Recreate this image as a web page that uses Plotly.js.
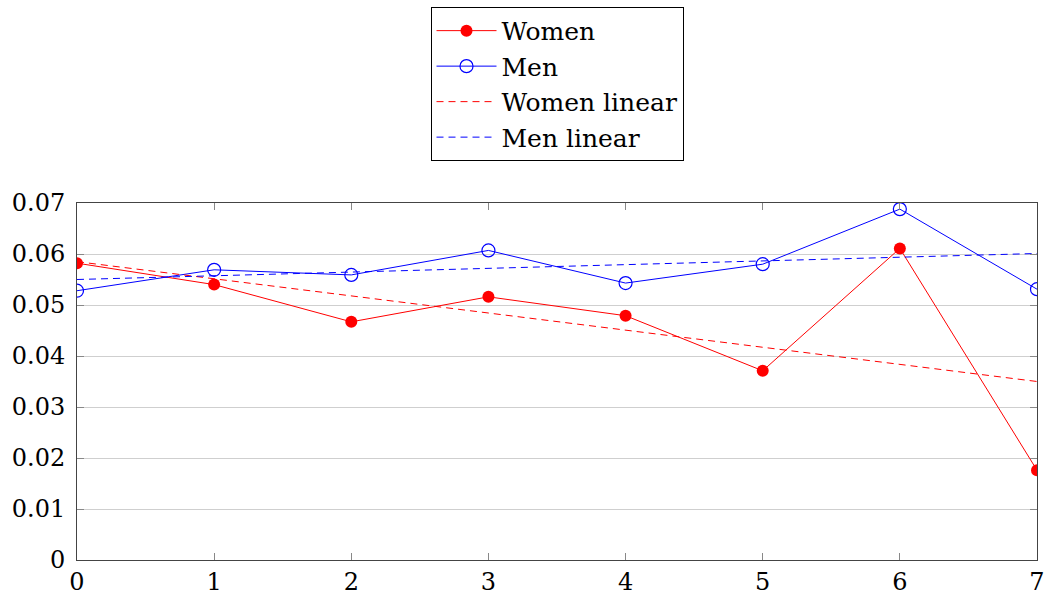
<!DOCTYPE html>
<html>
<head>
<meta charset="utf-8">
<script src="https://cdn.plot.ly/plotly-3.0.1.min.js"></script>
<style>html,body{margin:0;padding:0;background:#fff;}#chart{width:1045px;height:599px;}</style>
</head>
<body>
<div id="chart"></div>
<script>
const xValues = [0, 1, 2, 3, 4, 5, 6, 7];
const women = [0.0582, 0.0540, 0.0467, 0.0516, 0.0479, 0.0371, 0.0611, 0.0176];
const men = [0.0528, 0.0569, 0.0559, 0.0607, 0.0543, 0.0580, 0.0688, 0.0531];
const linearX = [0, 7];
const womenLinear = [0.0585, 0.0350];
const menLinear = [0.0550, 0.0601];
const yTicks = [0, 0.01, 0.02, 0.03, 0.04, 0.05, 0.06, 0.07];
const yTickLabels = ['0', '0.01', '0.02', '0.03', '0.04', '0.05', '0.06', '0.07'];

const font = 'DejaVu Serif';

const traces = [
  {x: xValues, y: women, name: 'Women', mode: 'lines+markers', type: 'scatter',
   line: {color: '#ff0000', width: 1},
   marker: {symbol: 'circle', size: 12, color: '#ff0000', line: {width: 0}}},
  {x: xValues, y: men, name: 'Men', mode: 'lines+markers', type: 'scatter',
   line: {color: '#0000ff', width: 1},
   marker: {symbol: 'circle-open', size: 13, color: '#0000ff', line: {width: 1.2}}},
  {x: linearX, y: womenLinear, name: 'Women linear', mode: 'lines', type: 'scatter',
   line: {color: '#ff0000', width: 1, dash: '7px,5px'}},
  {x: linearX, y: menLinear, name: 'Men linear', mode: 'lines', type: 'scatter',
   line: {color: '#0000ff', width: 1, dash: '7px,5px'}}
];

const layout = {
  width: 1045, height: 599,
  margin: {l: 77, r: 8, t: 202, b: 39},
  paper_bgcolor: '#ffffff', plot_bgcolor: '#ffffff',
  font: {family: font, size: 24, color: '#000'},
  showlegend: true,
  legend: {x: 0.5, xanchor: 'center', y: 1.545, yanchor: 'top',
    bordercolor: '#000', borderwidth: 1, bgcolor: '#fff',
    font: {family: font, size: 25, color: '#000'},
    tracegroupgap: 0, itemwidth: 60},
  xaxis: {range: [0, 7], tickvals: xValues, ticktext: xValues.map(String),
    ticks: 'inside', ticklen: 7, tickcolor: '#888', tickwidth: 1,
    showline: true, linecolor: '#444', linewidth: 1, mirror: 'ticks',
    showgrid: false, zeroline: false, tickfont: {family: font, size: 24}},
  yaxis: {range: [0, 0.07], tickvals: yTicks, ticktext: yTickLabels,
    ticks: 'inside', ticklen: 7, tickcolor: '#888', tickwidth: 1,
    showline: true, linecolor: '#444', linewidth: 1, mirror: 'ticks',
    ticklabelstandoff: 6,
    showgrid: true, gridcolor: '#cfcfcf', gridwidth: 1, zeroline: false,
    tickfont: {family: font, size: 24}}
};

Plotly.newPlot('chart', traces, layout, {displayModeBar: false, staticPlot: true});
</script>
</body>
</html>
